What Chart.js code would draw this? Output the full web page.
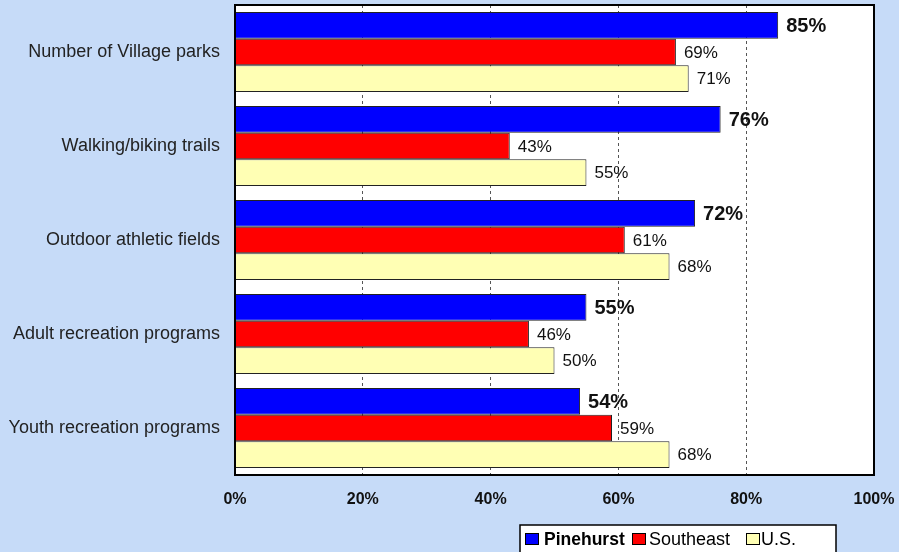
<!DOCTYPE html>
<html><head><meta charset="utf-8">
<script src="https://cdn.jsdelivr.net/npm/chart.js@4"></script>
<style>html,body{margin:0;padding:0;background:#C6DBF8;}#wrap{width:899px;height:552px;}</style>
</head><body><div id="wrap"><canvas id="c" width="899" height="552"></canvas></div>
<script>
const categories = ["Number of Village parks","Walking/biking trails","Outdoor athletic fields","Adult recreation programs","Youth recreation programs"];
const seriesNames = ["Pinehurst","Southeast","U.S."];
const pinehurst = [85,76,72,55,54];
const southeast = [69,43,61,46,59];
const us = [71,55,68,50,68];
const xTicks = [0,20,40,60,80,100];
const colors = ["#0000FF","#FF0000","#FFFFB4"];

const FONT = "'Liberation Sans', Arial, sans-serif";

const plotBg = {
  id:'plotBg',
  beforeDraw(chart){
    const {ctx, chartArea:a} = chart;
    ctx.save(); ctx.fillStyle='#fff'; ctx.fillRect(a.left,a.top,a.right-a.left,a.bottom-a.top); ctx.restore();
  },
  afterDatasetsDraw(chart){
    const {ctx, chartArea:a} = chart;
    ctx.save();
    chart.data.datasets.forEach((ds,di)=>{
      const meta = chart.getDatasetMeta(di);
      meta.data.forEach((bar,i)=>{
        ctx.fillStyle='#111';
        ctx.font = di===0 ? "bold 20px "+FONT : "17px "+FONT;
        ctx.textBaseline='middle'; ctx.textAlign='left';
        ctx.fillText(ds.data[i]+"%", bar.x+ (di===0?8:8), bar.y+1);
      });
    });
    ctx.strokeStyle='#000'; ctx.lineWidth=2;
    ctx.strokeRect(a.left,a.top,a.right-a.left,a.bottom-a.top);
    // legend
    const lx=520, ly=525, lw=316, lh=28;
    ctx.fillStyle='#fff'; ctx.fillRect(lx,ly,lw,lh);
    ctx.strokeStyle='#000'; ctx.lineWidth=1.5; ctx.strokeRect(lx,ly,lw,lh);
    const sqX=[525,632,746], txX=[544,649,761];
    const cy = ly+14;
    seriesNames.forEach((n,i)=>{
      ctx.fillStyle=colors[i]; ctx.fillRect(sqX[i],cy-6,14,12);
      ctx.strokeStyle='#000'; ctx.lineWidth=1; ctx.strokeRect(sqX[i]+0.5,cy-5.5,13,11);
      ctx.fillStyle='#000'; ctx.font=(i===0?"bold 17.5px ":"18px ")+FONT;
      ctx.textBaseline='middle'; ctx.textAlign='left';
      ctx.fillText(n,txX[i],cy+1);
    });
    ctx.restore();
  }
};

function zeroPad(s){s.paddingTop=0;s.paddingBottom=0;s.paddingLeft=0;s.paddingRight=0;}

new Chart(document.getElementById('c'),{
  type:'bar',
  data:{
    labels:categories,
    datasets:[
      {label:seriesNames[0],data:pinehurst,backgroundColor:colors[0],borderColor:'#222',borderWidth:1},
      {label:seriesNames[1],data:southeast,backgroundColor:colors[1],borderColor:'#222',borderWidth:1},
      {label:seriesNames[2],data:us,backgroundColor:colors[2],borderColor:'#222',borderWidth:1}
    ]
  },
  options:{
    indexAxis:'y',
    responsive:false,
    animation:false,
    layout:{padding:{top:5,right:25,left:0,bottom:0}},
    plugins:{legend:{display:false},tooltip:{enabled:false}},
    datasets:{bar:{categoryPercentage:0.85,barPercentage:1}},
    scales:{
      x:{
        min:0,max:100,
        afterFit(s){s.height=77;zeroPad(s);},
        afterBuildTicks(s){s.ticks=xTicks.map(v=>({value:v}));},
        ticks:{padding:15,color:'#111',font:{family:FONT,size:16,weight:'bold'},callback:v=>v+'%',maxRotation:0},
        grid:{drawTicks:false,color:ctx=>(ctx.tick&&(ctx.tick.value===0||ctx.tick.value===100))?'rgba(0,0,0,0)':'#555',lineWidth:1},
        border:{display:false,dash:[3,3]}
      },
      y:{
        afterFit(s){s.width=235;zeroPad(s);},
        ticks:{padding:15,color:'#222',font:{family:FONT,size:18}},
        grid:{display:false,drawTicks:false},
        border:{display:false}
      }
    }
  },
  plugins:[plotBg]
});
</script></body></html>
